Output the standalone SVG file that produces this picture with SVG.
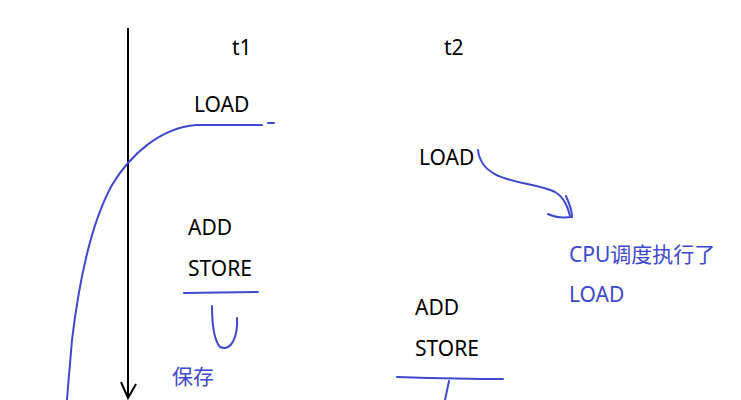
<svg xmlns="http://www.w3.org/2000/svg" width="741" height="400" viewBox="0 0 741 400">
<style>
.t{font-family:"Microsoft YaHei","Noto Sans","Noto Sans CJK SC",sans-serif;font-size:21px;fill:#000}
.b{fill:#3f48cc}
.s{fill:none;stroke:#3f48cc;stroke-width:2;stroke-linecap:round;stroke-linejoin:round}
.k{fill:none;stroke:#000;stroke-width:2}
</style>
<rect width="741" height="400" fill="#fff"/>
<g id="axis"><path class="k" d="M128 28 L128 398 M121 382 L128 398 L136 384"/></g>
<g id="t1"><text class="t" x="232" y="55">t1</text></g>
<g id="t2"><text class="t" x="444" y="55">t2</text></g>
<g id="load1"><text class="t" x="194" y="112">LOAD</text></g>
<g id="load2"><text class="t" x="419" y="165">LOAD</text></g>
<g id="addstore1"><text class="t" x="188" y="235">ADD</text><text class="t" x="188" y="276">STORE</text></g>
<g id="addstore2"><text class="t" x="415" y="315">ADD</text><text class="t" x="415" y="356">STORE</text></g>
<g id="note1"><text class="t b" x="569" y="262">CPU调度执行了</text><text class="t b" x="569" y="302">LOAD</text></g>
<g id="note2"><text class="t b" x="172" y="384">保存</text></g>
<g id="connectors">
<path class="s" d="M196 125 L262 125 M268 123 L274 123"/>
<path class="s" d="M196 125 C160 128 130 155 112 185 C90 225 78 290 72 340 C70 365 68 385 67 400"/>
<path class="s" d="M478 150 C482 185 530 180 555 192 C565 198 568 208 570 216"/>
<path class="s" d="M548 214 C556 218 564 218 572 217 M566 196 C570 205 572 210 572 217"/>
<path class="s" d="M184 293 L258 292"/>
<path class="s" d="M212 306 C212 322 214 340 220 347 C232 352 238 335 237 318"/>
<path class="s" d="M397 377 C430 378 470 379 503 379 M449 381 L445 400"/>
</g>
</svg>
